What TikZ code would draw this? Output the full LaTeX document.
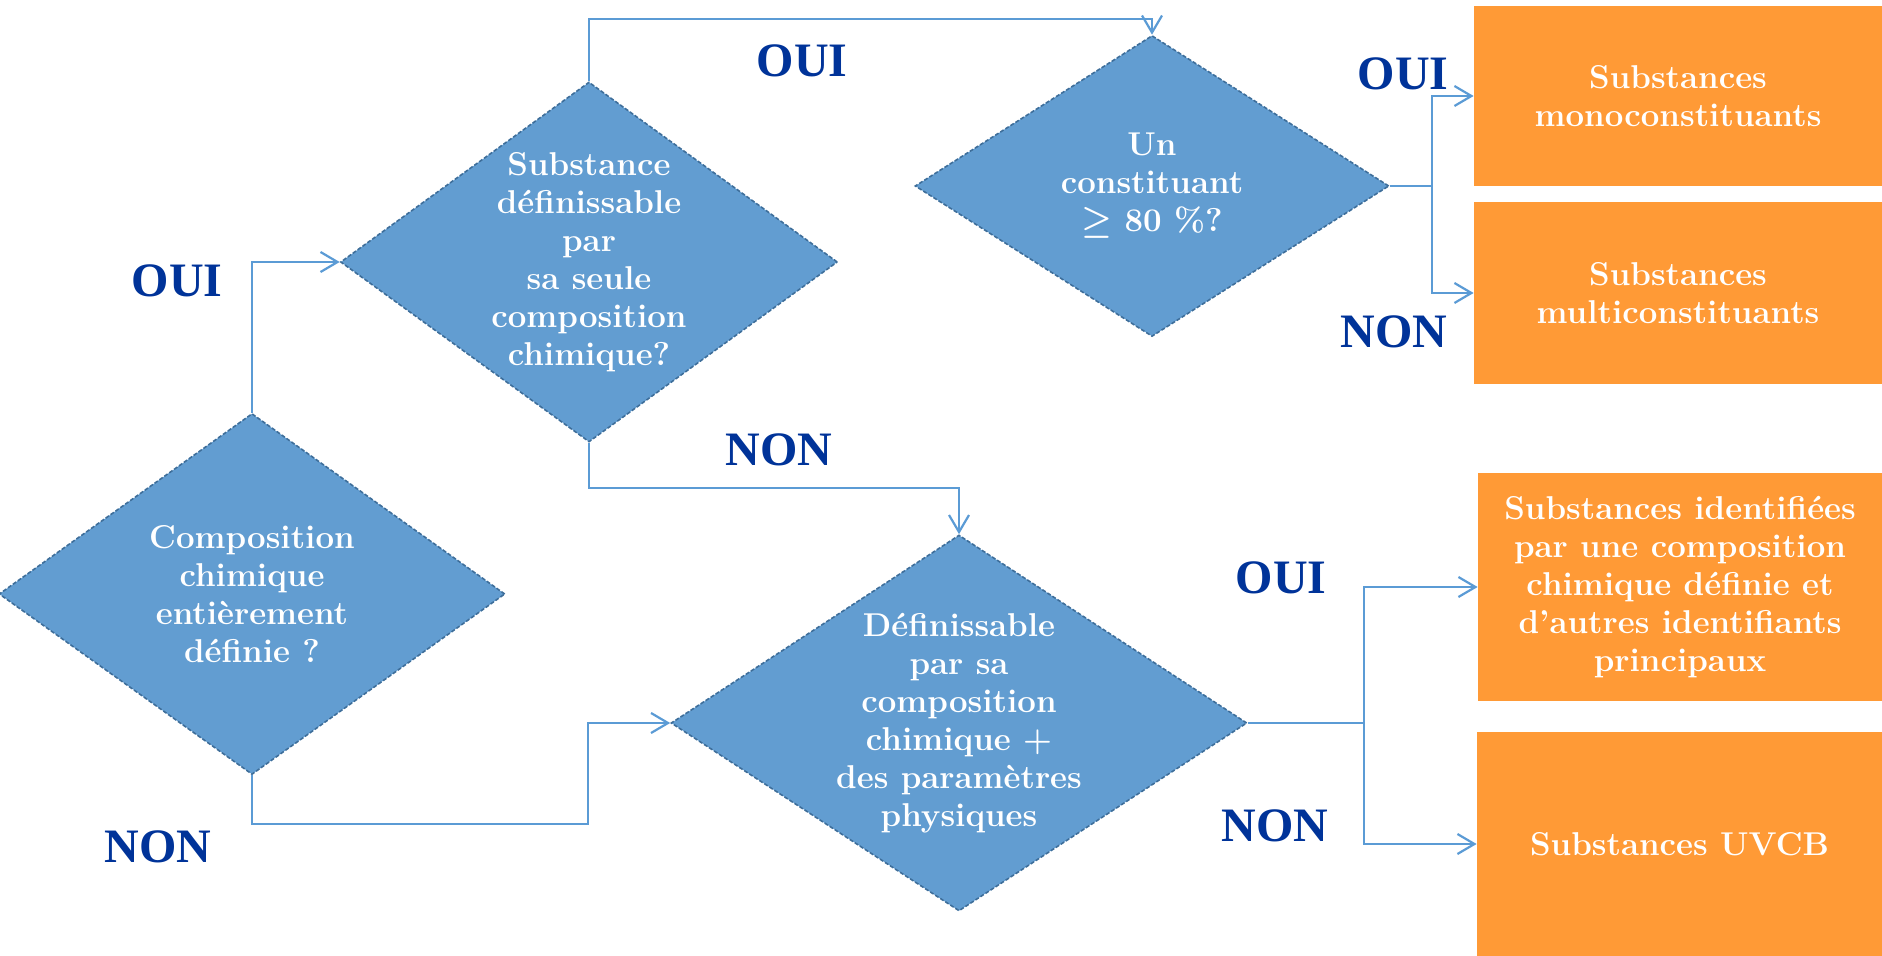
\documentclass[tikz,border=0pt]{standalone}
\usepackage{fontspec}
\newfontfamily\answerfont{Liberation Serif}
\usepackage{tikz}
\usetikzlibrary{shapes.geometric, arrows.meta, calc}

\definecolor{diamondblue}{HTML}{629DD1}
\definecolor{edgeblue}{HTML}{3E6E9A}
\definecolor{lineblue}{HTML}{5B9BD5}
\definecolor{answerblue}{HTML}{003399}
\definecolor{resultorange}{HTML}{FF9A36}

\begin{document}
\begin{tikzpicture}[x=0.5pt, y=-0.5pt,
  decision/.style={diamond, fill=diamondblue, draw=edgeblue, dash pattern=on 2pt off 1pt, line width=0.8pt, inner sep=0pt},
  qtext/.style={text=white, font=\bfseries\fontsize{16.5}{19}\selectfont, align=center},
  result/.style={rectangle, fill=resultorange, text=white, inner sep=0pt, font=\bfseries\fontsize{16.5}{19}\selectfont, align=center},
  answer/.style={text=answerblue, inner sep=0pt, font=\answerfont\bfseries\fontsize{24}{24}\selectfont},
  flow/.style={draw=lineblue, line width=1.1pt, -{Straight Barb[length=8.5pt,width=10pt]}}]
\useasboundingbox (0,0) rectangle (1882,956);

% Questions
\node[decision, minimum width=253pt, minimum height=180.5pt,
  label={[qtext]center:Composition\\chimique\\entièrement\\définie ?}] (qA) at (252,594) {};
\node[decision, minimum width=248.5pt, minimum height=180pt,
  label={[qtext]center:Substance\\définissable\\par\\sa seule\\composition\\chimique?}] (qB) at (589,262) {};
\node[decision, minimum width=237pt, minimum height=150.5pt,
  label={[qtext]center:Un\\constituant\\{\boldmath$\geq$} 80 \%?}] (qC) at (1152,186) {};
\node[decision, minimum width=288pt, minimum height=188pt,
  label={[qtext]center:Définissable\\par sa\\composition\\chimique +\\des paramètres\\physiques}] (qD) at (959,723) {};

% Results
\node[result, minimum width=204pt, minimum height=90pt] (mono) at (1678,96) {Substances\\monoconstituants};
\node[result, minimum width=204pt, minimum height=91pt] (multi) at (1678,293) {Substances\\multiconstituants};
\node[result, minimum width=202pt, minimum height=114pt] (ident) at (1680,587)
  {Substances identifiées\\par une composition\\chimique définie et\\d’autres identifiants\\principaux};
\node[result, minimum width=202.5pt, minimum height=112pt] (uvcb) at (1679.5,844) {Substances UVCB};

% Arrows
\draw[flow] (qA.north) |- (qB.west);
\draw[flow] (qA.south) |- (588,824) |- (qD.west);
\draw[flow] (qB.north) -- ++(0,-62) -| (qC.north);
\draw[flow] (qB.south) -- ++(0,45) -| (qD.north);
\draw[flow] (qC.east) -- ++(42,0) |- (mono.west);
\draw[flow] (qC.east) -- ++(42,0) |- (multi.west);
\draw[flow] (qD.east) -- ++(116,0) |- (ident.west);
\draw[flow] (qD.east) -- ++(116,0) |- (uvcb.west);

% Answers
\node[answer] (ouiA) at (177,281) {OUI};
\node[answer] (nonA) at (158,847) {NON};
\node[answer] (ouiB) at (802,61) {OUI};
\node[answer] (nonB) at (779,450) {NON};
\node[answer] (ouiC) at (1403,74) {OUI};
\node[answer] (nonC) at (1394,332) {NON};
\node[answer] (ouiD) at (1281,578) {OUI};
\node[answer] (nonD) at (1275,826) {NON};
\end{tikzpicture}
\end{document}
